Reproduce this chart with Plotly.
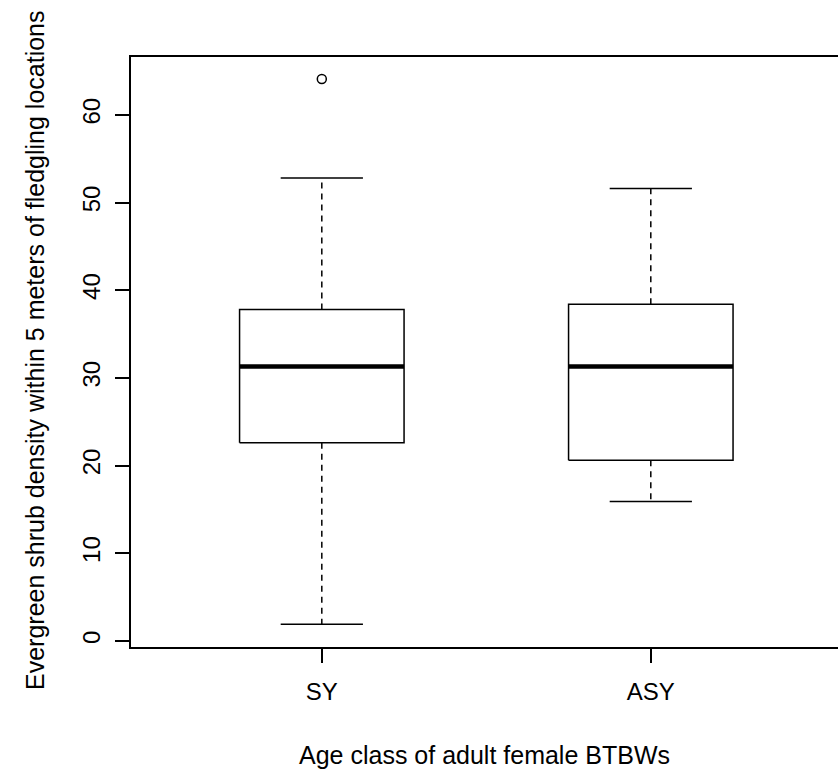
import plotly.graph_objects as go

# ---- data ----
categories = ["SY", "ASY"]
lower_whisker = [1.9, 15.9]
q1 = [22.6, 20.6]
median = [31.3, 31.3]
q3 = [37.8, 38.4]
upper_whisker = [52.8, 51.6]
outliers = [[64.1], []]
y_ticks = [0, 10, 20, 30, 40, 50, 60]

# ---- styles ----
BOX_HALF = 0.25
STAPLE_HALF = 0.125
LW = 1.5
FONT = dict(family="Liberation Sans, Arial, sans-serif", size=24, color="black")
TITLE_FONT = dict(family="Liberation Sans, Arial, sans-serif", size=25, color="black")

fig = go.Figure()
positions = list(range(1, len(categories) + 1))

for pos, lo, a, m, b, hi, outs in zip(positions, lower_whisker, q1, median, q3,
                                       upper_whisker, outliers):
    # whiskers (dashed)
    fig.add_trace(go.Scatter(x=[pos, pos, None, pos, pos], y=[b, hi, None, a, lo],
                             mode="lines", line=dict(color="black", width=LW, dash="6px,5px"),
                             hoverinfo="skip", showlegend=False))
    # staples
    fig.add_trace(go.Scatter(x=[pos - STAPLE_HALF, pos + STAPLE_HALF, None,
                                pos - STAPLE_HALF, pos + STAPLE_HALF],
                             y=[hi, hi, None, lo, lo],
                             mode="lines", line=dict(color="black", width=LW),
                             hoverinfo="skip", showlegend=False))
    # box
    fig.add_trace(go.Scatter(x=[pos - BOX_HALF, pos + BOX_HALF, pos + BOX_HALF,
                                pos - BOX_HALF, pos - BOX_HALF],
                             y=[a, a, b, b, a], mode="lines", fill="toself",
                             fillcolor="white", line=dict(color="black", width=LW),
                             hoverinfo="skip", showlegend=False))
    # median
    fig.add_trace(go.Scatter(x=[pos - BOX_HALF, pos + BOX_HALF], y=[m, m],
                             mode="lines", line=dict(color="black", width=4.5),
                             hoverinfo="skip", showlegend=False))
    # outliers
    if outs:
        fig.add_trace(go.Scatter(x=[pos] * len(outs), y=outs, mode="markers",
                                 marker=dict(symbol="circle-open", size=9, color="black",
                                             line=dict(width=1.5)),
                                 hoverinfo="skip", showlegend=False))

fig.update_layout(
    width=838, height=770,
    margin=dict(l=131, r=0, t=57, b=123),
    plot_bgcolor="white", paper_bgcolor="white",
    font=FONT,
    xaxis=dict(range=[0.42, 2.569], tickvals=positions, ticktext=categories,
               showgrid=False, zeroline=False, showline=True, mirror=True,
               linecolor="black", linewidth=LW, ticks="outside", ticklen=14,
               tickwidth=LW, tickcolor="black", ticklabelstandoff=8),
    yaxis=dict(range=[-0.7, 66.6], tickvals=y_ticks,
               showgrid=False, zeroline=False, showline=True, mirror=False,
               linecolor="black", linewidth=LW, ticks="outside", ticklen=14,
               tickwidth=LW, tickcolor="black", tickangle=-90, ticklabelstandoff=6),
    annotations=[
        dict(text="Age class of adult female BTBWs", xref="paper", yref="paper",
             x=(484 - 131) / 707, y=(647 - 755) / 590, xanchor="center", yanchor="middle",
             showarrow=False, font=TITLE_FONT),
        dict(text="Evergreen shrub density within 5 meters of fledgling locations",
             xref="paper", yref="paper", x=(35 - 131) / 707, y=(647 - 350) / 590,
             xanchor="center", yanchor="middle", textangle=-90, showarrow=False,
             font=TITLE_FONT),
    ],
)

fig.write_html("out.html")
